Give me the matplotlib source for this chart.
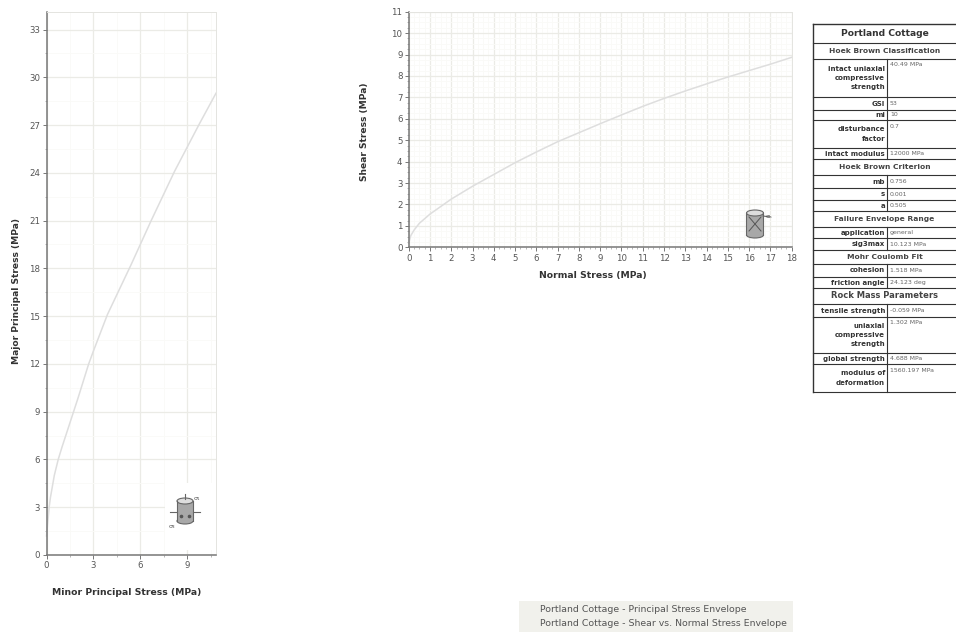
import matplotlib
matplotlib.use('Agg')
import matplotlib.pyplot as plt
from matplotlib.patches import Rectangle, Ellipse
from matplotlib.ticker import MultipleLocator

# principal stress envelope
minor_stress = [0, 0.17, 0.25, 0.5, 0.75, 1, 2, 2.7, 3, 3.9, 5.4, 6.7, 8.2, 9.8, 10.85]
major_stress = [1.2, 3.0, 3.6, 5.0, 6.0, 6.8, 9.8, 12.0, 12.8, 15.1, 18.2, 21.0, 24.1, 27.1, 29.0]

# shear vs normal envelope
normal_stress = [0, 0.1, 0.25, 0.5, 1, 2, 3, 4, 5, 6, 7, 8, 9, 10, 11, 12, 13, 14, 15, 16, 17, 18]
shear_stress = [0.2, 0.55, 0.8, 1.12, 1.55, 2.25, 2.85, 3.4, 3.95, 4.45, 4.93, 5.35, 5.77, 6.18, 6.58,
                6.95, 7.3, 7.63, 7.95, 8.25, 8.55, 8.87]

table_title = 'Portland Cottage'
section_names = ['Hoek Brown Classification', 'Hoek Brown Criterion', 'Failure Envelope Range',
                 'Mohr Coulomb Fit', 'Rock Mass Parameters']
classification_labels = ['intact uniaxial\ncompressive\nstrength', 'GSI', 'mi', 'disturbance\nfactor', 'intact modulus']
classification_values = ['40.49 MPa', '53', '10', '0.7', '12000 MPa']
criterion_labels = ['mb', 's', 'a']
criterion_values = ['0.756', '0.001', '0.505']
range_labels = ['application', 'sig3max']
range_values = ['general', '10.123 MPa']
fit_labels = ['cohesion', 'friction angle']
fit_values = ['1.518 MPa', '24.123 deg']
mass_labels = ['tensile strength', 'uniaxial\ncompressive\nstrength', 'global strength', 'modulus of\ndeformation']
mass_values = ['-0.059 MPa', '1.302 MPa', '4.688 MPa', '1560.197 MPa']
legend_lines = ['Portland Cottage - Principal Stress Envelope',
                'Portland Cottage - Shear vs. Normal Stress Envelope']

W, H = 956, 633
LINE = '#dedede'
AXIS = '#777777'
TXT = '#555555'

plt.rcParams['font.family'] = ['DejaVu Sans']
fig = plt.figure(figsize=(W / 100, H / 100), dpi=100)


def make_axes(left, right, top, bottom):
    return fig.add_axes([left / W, 1 - bottom / H, (right - left) / W, (bottom - top) / H])


def style_axes(ax, xmajor, xminor, ymajor, yminor, xlabel, ylabel):
    ax.xaxis.set_major_locator(MultipleLocator(xmajor))
    ax.xaxis.set_minor_locator(MultipleLocator(xminor))
    ax.yaxis.set_major_locator(MultipleLocator(ymajor))
    ax.yaxis.set_minor_locator(MultipleLocator(yminor))
    ax.grid(True, which='major', color='#ebebe6', lw=0.9)
    ax.grid(True, which='minor', color='#fafaf7', lw=0.6)
    ax.set_axisbelow(True)
    ax.tick_params(which='major', length=3, width=0.7, color=AXIS, labelsize=6.2, labelcolor=TXT, pad=1.5)
    ax.tick_params(which='minor', length=1.5, width=0.5, color='#999999')
    for side in ['top', 'right']:
        ax.spines[side].set_color('#e4e4e0')
        ax.spines[side].set_linewidth(0.7)
    for side in ['left', 'bottom']:
        ax.spines[side].set_color(AXIS)
        ax.spines[side].set_linewidth(1.1)
    ax.set_xlabel(xlabel, fontsize=6.7, fontweight='bold', color='#333333')
    ax.set_ylabel(ylabel, fontsize=6.6, fontweight='bold', color='#333333')


ax1 = make_axes(46.5, 216, 12, 555)
ax1.plot(minor_stress, major_stress, color=LINE, lw=1.1, clip_on=False)
ax1.set_xlim(0, 10.85)
ax1.set_ylim(0, 34.1)
style_axes(ax1, 3, 1.5, 3, 1.5, 'Minor Principal Stress (MPa)', 'Major Principal Stress (MPa)')
ax1.xaxis.set_label_coords(0.475, -0.06)
ax1.yaxis.set_label_coords(-0.15, 0.487)

ax2 = make_axes(408.7, 791.7, 11.7, 247.3)
ax2.plot(normal_stress, shear_stress, color=LINE, lw=1.1, clip_on=False)
ax2.set_xlim(0, 18)
ax2.set_ylim(0, 11)
style_axes(ax2, 1, 0.25, 1, 0.25, 'Normal Stress (MPa)', 'Shear Stress (MPa)')
ax2.xaxis.set_label_coords(0.482, -0.10)
ax2.yaxis.set_label_coords(-0.103, 0.49)

# overlay in pixel coordinates for the table, icons and legend box
ov = fig.add_axes([0, 0, 1, 1], zorder=5)
ov.set_xlim(0, W)
ov.set_ylim(H, 0)
ov.axis('off')


def cylinder(cx, cy, w, h):
    ov.add_patch(Rectangle((cx - w / 2, cy - h / 2), w, h, fc='#a8a8a8', ec='none'))
    ov.add_patch(Ellipse((cx, cy + h / 2), w, 6, fc='#a8a8a8', ec='#666666', lw=0.8))
    ov.add_patch(Rectangle((cx - w / 2, cy - h / 2), w, h, fc='#a8a8a8', ec='none'))
    ov.plot([cx - w / 2, cx - w / 2], [cy - h / 2, cy + h / 2], color='#666666', lw=0.8)
    ov.plot([cx + w / 2, cx + w / 2], [cy - h / 2, cy + h / 2], color='#666666', lw=0.8)
    ov.add_patch(Ellipse((cx, cy - h / 2), w, 6, fc='#dddddd', ec='#666666', lw=0.8))


# principal stress icon, the grid is blanked out behind it
ov.add_patch(Rectangle((165, 483), 51, 67, fc='white', ec='none'))
cylinder(185, 511, 16, 20)
ov.plot([170, 177], [512, 512], color='#666666', lw=0.8)
ov.plot([193, 200], [512, 512], color='#666666', lw=0.8)
ov.plot([185, 185], [494, 499], color='#666666', lw=0.8)
ov.plot([181, 189], [516, 516], color='#555555', lw=0, marker='o', ms=1.6)
ov.text(197, 499, 'σ₁', fontsize=4.5, color='#555555', ha='center', va='center')
ov.text(172, 527, 'σ₃', fontsize=4.5, color='#555555', ha='center', va='center')

# shear icon
cylinder(755, 224, 17, 22)
ov.plot([749, 761], [217, 231], color='#555555', lw=0.7)
ov.plot([761, 749], [217, 231], color='#555555', lw=0.7)
ov.plot([763, 770], [216, 217], color='#666666', lw=0.8)
ov.text(769, 217, 'σₙ', fontsize=4.5, color='#555555', ha='center', va='center')

# table
T_LEFT, T_SPLIT, T_RIGHT = 813, 887, 956
T_TOP = 24
rows = [('title', table_title), ('section', section_names[0])]
rows += [('row', a, b) for a, b in zip(classification_labels, classification_values)]
rows += [('section', section_names[1])]
rows += [('row', a, b) for a, b in zip(criterion_labels, criterion_values)]
rows += [('section', section_names[2])]
rows += [('row', a, b) for a, b in zip(range_labels, range_values)]
rows += [('section', section_names[3])]
rows += [('row', a, b) for a, b in zip(fit_labels, fit_values)]
rows += [('section', section_names[4])]
rows += [('row', a, b) for a, b in zip(mass_labels, mass_values)]
row_bottoms = [43, 59, 97, 110, 120, 148, 159, 175, 188, 200, 211, 227, 238, 250, 264, 277, 288, 304, 317,
               353, 364, 392]

top = T_TOP
for r, bottom in zip(rows, row_bottoms):
    mid = (top + bottom) / 2
    ov.plot([T_LEFT, T_RIGHT], [bottom, bottom], color='#333333', lw=0.8)
    if r[0] == 'title':
        ov.text((T_LEFT + T_RIGHT) / 2, mid, r[1], fontsize=6.6, fontweight='bold', color='#333333',
                ha='center', va='center')
    elif r[0] == 'section':
        size = 6 if r[1].startswith('Rock') else 5.4
        ov.text((T_LEFT + T_RIGHT) / 2, mid, r[1], fontsize=size, fontweight='bold', color='#444444',
                ha='center', va='center')
    else:
        ov.plot([T_SPLIT, T_SPLIT], [top, bottom], color='#333333', lw=0.8)
        ov.text(T_SPLIT - 2, mid, r[1], fontsize=5, fontweight='bold', color='#333333', ha='right', va='center',
                linespacing=1.65)
        first_line = top + 6 if '\n' in r[1] else mid
        ov.text(T_SPLIT + 3, first_line, r[2], fontsize=4.5, color='#666666', ha='left', va='center')
    top = bottom
ov.plot([T_LEFT, T_RIGHT], [T_TOP, T_TOP], color='#333333', lw=1)
ov.plot([T_LEFT, T_LEFT], [T_TOP, row_bottoms[-1]], color='#333333', lw=1)

# window list box at the bottom
ov.add_patch(Rectangle((519, 601), 274, 31, fc='#f1f1ec', ec='none'))
ov.text(540, 610, legend_lines[0], fontsize=6.75, color='#555555', ha='left', va='center')
ov.text(540, 623, legend_lines[1], fontsize=6.75, color='#555555', ha='left', va='center')

fig.savefig('out.png', dpi=100)
